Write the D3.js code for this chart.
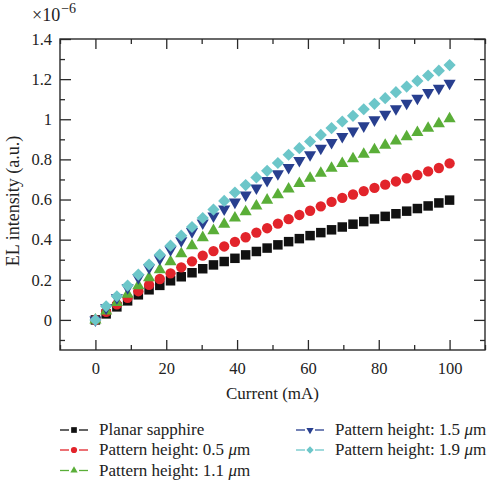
<!DOCTYPE html>
<html>
<head>
<meta charset="utf-8">
<script src="https://d3js.org/d3.v7.min.js"></script>
<style>
  body { margin: 0; background: #fff; }
  svg text { font-family: "Liberation Serif", "DejaVu Serif", serif; fill: #222; }
</style>
</head>
<body>
<div id="chart"></div>
<script>
// Current (mA), 34 measurement points
const current = [0, 3.03, 6.06, 9.09, 12.12, 15.15, 18.18, 21.21, 24.24, 27.27,
    30.3, 33.33, 36.36, 39.39, 42.42, 45.45, 48.48, 51.52, 54.55, 57.58,
    60.61, 63.64, 66.67, 69.7, 72.73, 75.76, 78.79, 81.82, 84.85, 87.88,
    90.91, 93.94, 96.97, 100];

// EL intensity (x1e-6 a.u.)
const planar = [0, 0.03, 0.065, 0.095, 0.125, 0.15, 0.172, 0.195, 0.215, 0.235,
    0.255, 0.274, 0.291, 0.307, 0.324, 0.341, 0.358, 0.374, 0.39, 0.405,
    0.42, 0.435, 0.449, 0.463, 0.477, 0.49, 0.503, 0.516, 0.529, 0.542,
    0.555, 0.568, 0.583, 0.597];
const h05 = [0, 0.04, 0.077, 0.11, 0.143, 0.175, 0.204, 0.232, 0.262, 0.292,
    0.32, 0.343, 0.366, 0.389, 0.412, 0.435, 0.457, 0.48, 0.502, 0.523,
    0.544, 0.566, 0.588, 0.608, 0.625, 0.642, 0.658, 0.674, 0.69, 0.706,
    0.722, 0.74, 0.757, 0.78];
const h11 = [0, 0.045, 0.087, 0.128, 0.17, 0.21, 0.25, 0.29, 0.33, 0.37,
    0.41, 0.445, 0.477, 0.508, 0.539, 0.568, 0.597, 0.624, 0.652, 0.68,
    0.706, 0.731, 0.756, 0.78, 0.803, 0.826, 0.848, 0.87, 0.892, 0.913,
    0.934, 0.955, 0.978, 1.003];
const h15 = [0, 0.06, 0.11, 0.16, 0.21, 0.26, 0.305, 0.35, 0.395, 0.44,
    0.483, 0.518, 0.553, 0.587, 0.622, 0.657, 0.695, 0.728, 0.76, 0.795,
    0.823, 0.856, 0.884, 0.914, 0.942, 0.967, 0.997, 1.025, 1.052, 1.08,
    1.105, 1.133, 1.155, 1.18];
const h19 = [0, 0.068, 0.118, 0.171, 0.226, 0.276, 0.325, 0.37, 0.42, 0.463,
    0.508, 0.55, 0.593, 0.635, 0.672, 0.71, 0.743, 0.782, 0.823, 0.856,
    0.889, 0.922, 0.956, 0.989, 1.017, 1.05, 1.077, 1.105, 1.135, 1.163,
    1.191, 1.218, 1.242, 1.27];

const seriesNames = ["Planar sapphire", "Pattern height: 0.5 μm", "Pattern height: 1.1 μm",
    "Pattern height: 1.5 μm", "Pattern height: 1.9 μm"];

const xTicks = [0, 20, 40, 60, 80, 100];
const xMinor = [-10, 10, 30, 50, 70, 90, 110];
const yTicks = [0, 0.2, 0.4, 0.6, 0.8, 1, 1.2, 1.4];
const yMinor = [-0.1, 0.1, 0.3, 0.5, 0.7, 0.9, 1.1, 1.3];

const width = 500, height = 488;
const margin = { top: 39, right: 15, bottom: 138, left: 60 };

const colors = ["#111111", "#e2242b", "#5aae38", "#283f8f", "#6cc6c9"];
const shapes = ["square", "circle", "triUp", "triDown", "diamond"];

const series = [planar, h05, h11, h15, h19].map((vals, i) => ({
    name: seriesNames[i],
    color: colors[i],
    shape: shapes[i],
    points: vals.map((v, j) => ({ x: current[j], y: v }))
}));

const svg = d3.select("#chart")
    .append("svg")
    .attr("width", width)
    .attr("height", height);

const x = d3.scaleLinear()
    .domain([-10, 110])
    .range([margin.left, width - margin.right]);

const y = d3.scaleLinear()
    .domain([-0.15, 1.4])
    .range([height - margin.bottom, margin.top]);

const x0 = margin.left, x1 = width - margin.right;
const y0 = height - margin.bottom, y1 = margin.top;

// marker path generator
function markerPath(shape, scale) {
    const s = scale || 1;
    if (shape === "square") return d3.symbol(d3.symbolSquare, 90 * s * s)();
    if (shape === "circle") return d3.symbol(d3.symbolCircle, 84 * s * s)();
    if (shape === "triUp" || shape === "triDown") return d3.symbol(d3.symbolTriangle, 64 * s * s)();
    return d3.symbol(d3.symbolSquare, 74 * s * s)();
}
function markerRotate(shape) {
    if (shape === "triDown") return 180;
    if (shape === "diamond") return 45;
    return 0;
}

// axes: inward ticks, major and minor, on all four sides
function tickAxis(axisFn, scale, values, size, pad) {
    const a = axisFn(scale).tickValues(values).tickSizeInner(-size).tickSizeOuter(0);
    if (pad) a.tickPadding(pad).tickFormat(d3.format("~g"));
    else a.tickFormat("");
    return a;
}

const gAxes = svg.append("g").attr("class", "axes");

gAxes.append("g").attr("transform", `translate(0,${y0})`)
    .call(tickAxis(d3.axisBottom, x, xTicks, 10, 12));
gAxes.append("g").attr("transform", `translate(0,${y0})`)
    .call(tickAxis(d3.axisBottom, x, xMinor, 5));
gAxes.append("g").attr("transform", `translate(0,${y1})`)
    .call(tickAxis(d3.axisTop, x, xTicks, 10));
gAxes.append("g").attr("transform", `translate(0,${y1})`)
    .call(tickAxis(d3.axisTop, x, xMinor, 5));

gAxes.append("g").attr("transform", `translate(${x0},0)`)
    .call(tickAxis(d3.axisLeft, y, yTicks, 11, 8));
gAxes.append("g").attr("transform", `translate(${x0},0)`)
    .call(tickAxis(d3.axisLeft, y, yMinor, 5));
gAxes.append("g").attr("transform", `translate(${x1},0)`)
    .call(tickAxis(d3.axisRight, y, yTicks, 11));
gAxes.append("g").attr("transform", `translate(${x1},0)`)
    .call(tickAxis(d3.axisRight, y, yMinor, 5));

gAxes.selectAll(".domain").remove();
gAxes.selectAll(".tick line").attr("stroke", "#2a2a2a").attr("stroke-width", 1.3);
gAxes.selectAll(".tick text")
    .style("font-size", "16.5px")
    .attr("fill", "#222");

// frame
svg.append("rect")
    .attr("x", x0).attr("y", y1)
    .attr("width", x1 - x0).attr("height", y0 - y1)
    .attr("fill", "none")
    .attr("stroke", "#2a2a2a")
    .attr("stroke-width", 1.4);

// exponent label
const expo = svg.append("text")
    .attr("x", 32).attr("y", 21)
    .style("font-size", "18px");
expo.append("tspan").text("×10");
expo.append("tspan").attr("dx", 1).attr("dy", -8).style("font-size", "14px").text("−6");

// axis titles
svg.append("text")
    .attr("x", (x0 + x1) / 2)
    .attr("y", y0 + 49)
    .attr("text-anchor", "middle")
    .style("font-size", "17px")
    .text("Current (mA)");

svg.append("text")
    .attr("transform", `translate(19,201) rotate(-90)`)
    .attr("text-anchor", "middle")
    .style("font-size", "18px")
    .text("EL intensity (a.u.)");

// markers
const gSeries = svg.selectAll(".series")
    .data(series)
    .enter()
    .append("g")
    .attr("class", "series")
    .attr("fill", d => d.color);

gSeries.selectAll("path")
    .data(d => d.points.map(p => ({ ...p, shape: d.shape })))
    .enter()
    .append("path")
    .attr("d", d => markerPath(d.shape))
    .attr("transform", d => `translate(${x(d.x)},${y(d.y)}) rotate(${markerRotate(d.shape)})`);

// legend
const legendPos = [
    { lx: 60, ly: 430 }, { lx: 60, ly: 450 }, { lx: 60, ly: 470.5 },
    { lx: 296, ly: 430 }, { lx: 296, ly: 450 }
];

const legend = svg.selectAll(".legend-item")
    .data(series)
    .enter()
    .append("g")
    .attr("class", "legend-item")
    .attr("transform", (d, i) => `translate(${legendPos[i].lx},${legendPos[i].ly})`);

legend.selectAll("line")
    .data(d => [[0, 9, d.color], [19, 28, d.color]])
    .enter()
    .append("line")
    .attr("x1", d => d[0]).attr("x2", d => d[1])
    .attr("y1", 0).attr("y2", 0)
    .attr("stroke", d => d[2])
    .attr("stroke-width", 1.3);

legend.append("path")
    .attr("d", d => markerPath(d.shape, 0.6))
    .attr("transform", d => `translate(14,0) rotate(${markerRotate(d.shape)})`)
    .attr("fill", d => d.color);

legend.append("text")
    .attr("x", 39)
    .attr("y", 5)
    .style("font-size", "17px")
    .each(function (d) {
        const t = d3.select(this);
        const parts = d.name.split("μ");
        t.append("tspan").text(parts[0]);
        if (parts.length > 1) {
            t.append("tspan").style("font-style", "italic").text("μ");
            t.append("tspan").text(parts[1]);
        }
    });
</script>
</body>
</html>
